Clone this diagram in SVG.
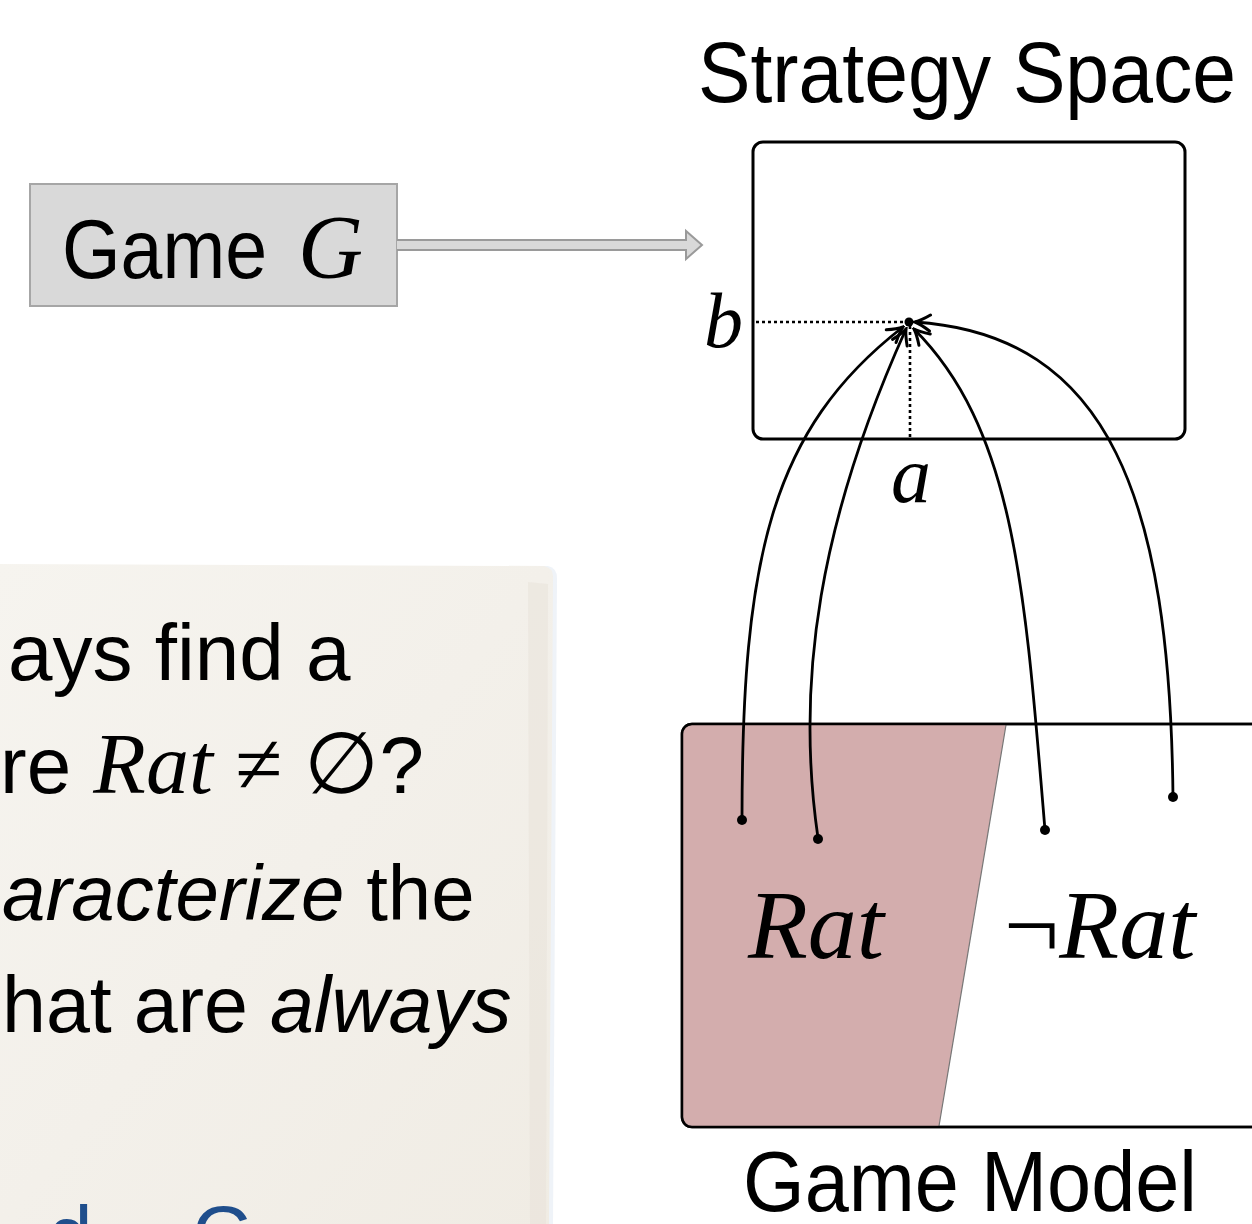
<svg xmlns="http://www.w3.org/2000/svg" width="1252" height="1224" viewBox="0 0 1252 1224">
<style>
.sans{font-family:"Liberation Sans","DejaVu Sans",sans-serif;fill:#000}
.math{font-family:"Liberation Serif","DejaVu Serif",serif;font-style:italic;fill:#000}
.up{font-style:normal}
.curve{fill:none;stroke:#000;stroke-width:2.8}
.dot{fill:none;stroke:#000;stroke-width:2.6;stroke-dasharray:3 3}
</style>
<defs>
<marker id="arr" viewBox="-18 -10 20 20" markerWidth="20" markerHeight="20" refX="0" refY="0" orient="auto" markerUnits="userSpaceOnUse">
<path d="M-15,-8 Q-6,-2 0,0 Q-6,2 -15,8" fill="none" stroke="#000" stroke-width="3" stroke-linecap="round"/>
</marker>
<linearGradient id="paper" x1="0" y1="0" x2="1" y2="1">
<stop offset="0" stop-color="#f6f4ef"/>
<stop offset="0.5" stop-color="#f3f0ea"/>
<stop offset="1" stop-color="#f0ece4"/>
</linearGradient>
</defs>
<rect width="1252" height="1224" fill="#fff"/>

<g id="parchment">
<path d="M0,566 L548,566 Q557,568 557,578 L553,1224 L0,1224 Z" fill="#e4ebf3" opacity="0.6"/>
<path d="M0,564 L544,566 Q553,568 553,576 L549,1224 L0,1224 Z" fill="url(#paper)"/>
<path d="M528,582 L548,584 L546,1224 L530,1224 Z" fill="#e7e1d6" opacity="0.45"/>
<text class="sans" x="8" y="680" font-size="80">ays find a</text>
<text class="sans" x="0" y="793" font-size="80">re <tspan class="math" font-size="86">Rat</tspan> <tspan class="math up" font-size="86">≠</tspan> <tspan class="math up" font-size="86">∅</tspan>?</text>
<text class="sans" x="2" y="920" font-size="78"><tspan font-style="italic">aracterize</tspan> the</text>
<text class="sans" x="2" y="1032" font-size="79">hat are <tspan font-style="italic">always</tspan></text>
<text class="sans" y="1262" font-size="80" style="fill:#1f4e8c"><tspan x="48">d</tspan><tspan x="192">G</tspan></text>
</g>

<g id="game-g">
<rect x="30" y="184" width="367" height="122" fill="#d9d9d9" stroke="#a6a6a6" stroke-width="2"/>
<text class="sans" x="62" y="278" font-size="84" textLength="205" lengthAdjust="spacingAndGlyphs">Game</text>
<text class="math" x="298" y="278" font-size="90">G</text>
</g>

<g id="strategy-space">
<text class="sans" x="698" y="102" font-size="86" textLength="538" lengthAdjust="spacingAndGlyphs">Strategy Space</text>
<rect x="753" y="142" width="432" height="297" rx="10" fill="none" stroke="#000" stroke-width="3"/>
<text class="math" x="704" y="347" font-size="78">b</text>
<text class="math" x="891" y="502" font-size="80">a</text>
</g>

<g id="game-model">
<rect x="682" y="724" width="600" height="403" rx="10" fill="#fff" stroke="#000" stroke-width="2.5"/>
<path d="M692,725 L1006,725 L939,1126 L692,1126 Q683,1126 683,1117 L683,734 Q683,725 692,725 Z" fill="#d3adad"/>
<line x1="1006" y1="725" x2="939" y2="1126" stroke="#777" stroke-width="1.2"/>
<rect x="682" y="724" width="600" height="403" rx="10" fill="none" stroke="#000" stroke-width="2.5"/>
<text class="math" x="748" y="958" font-size="98">Rat</text>
<text class="math" x="1004" y="958" font-size="98"><tspan class="up">¬</tspan>Rat</text>
<text class="sans" x="743" y="1211" font-size="86" textLength="454" lengthAdjust="spacingAndGlyphs">Game Model</text>
</g>

<g id="connectors">
<path d="M397,240 L686,240 L686,231 L702,245 L686,259 L686,250 L397,250" fill="#d9d9d9" stroke="#9a9a9a" stroke-width="2"/>
<line class="dot" x1="756" y1="322" x2="907" y2="322"/>
<line class="dot" x1="910" y1="326" x2="910" y2="438"/>
<circle cx="909" cy="322" r="4.5" fill="#000"/>
<path class="curve" d="M742,820 C742,560 770,430 903,327" marker-end="url(#arr)"/>
<path class="curve" d="M818,838 C795,680 820,520 906,329" marker-end="url(#arr)"/>
<path class="curve" d="M1045,830 C1025,590 1015,430 914,329" marker-end="url(#arr)"/>
<path class="curve" d="M1173,797 C1170,500 1110,335 915,322" marker-end="url(#arr)"/>
<circle cx="742" cy="820" r="5" fill="#000"/>
<circle cx="818" cy="839" r="5" fill="#000"/>
<circle cx="1045" cy="830" r="5" fill="#000"/>
<circle cx="1173" cy="797" r="5" fill="#000"/>
</g>
</svg>
